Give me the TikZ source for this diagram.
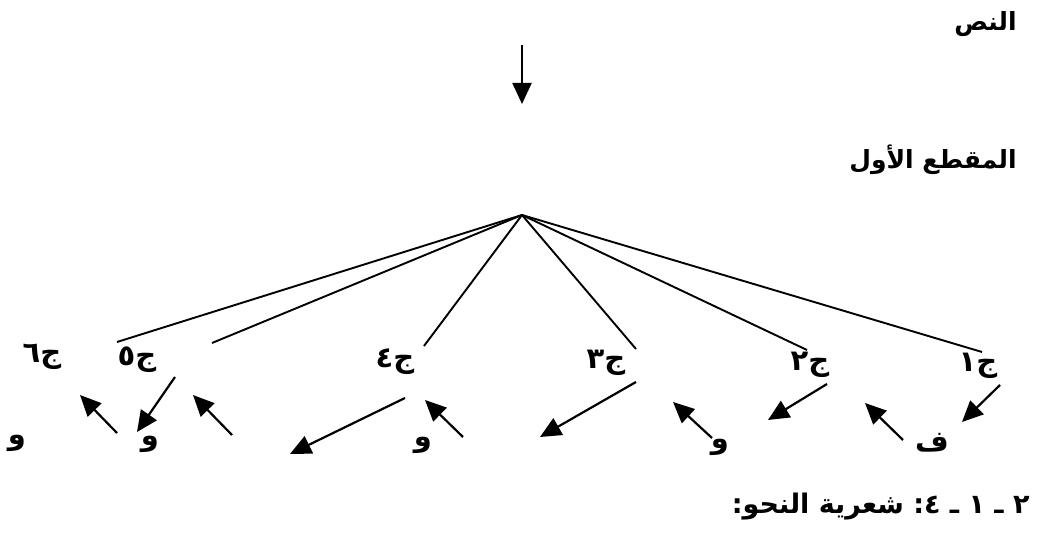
\documentclass[tikz,border=0pt]{standalone}
\usepackage{fontspec}
\newfontfamily\arabicfont[Script=Arabic]{DejaVu Sans}
\TeXXeTstate=1
\usetikzlibrary{arrows.meta}

\tikzset{
  word/.style={font=\arabicfont\bfseries\fontsize{12.5}{14}\selectfont, inner sep=0pt},
  sent/.style={font=\arabicfont\bfseries\fontsize{14.5}{16}\selectfont, inner sep=0pt},
  head/.style={font=\arabicfont\bfseries\fontsize{13.5}{16}\selectfont, inner sep=0pt},
  branch/.style={line width=0.95pt},
  link/.style={line width=1.1pt, -{Triangle[length=10.5pt,width=9.5pt]}}
}

\begin{document}
\begin{tikzpicture}[x=0.5pt, y=-0.5pt]
	\useasboundingbox (0,0) rectangle (1045,544);
	
	% Top labels
	\node[word, anchor=east] (text) at (1017, 24) {النص};
	\node[word, anchor=east] (part) at (1017, 160)
		{\beginR\hbox{المقطع} \hbox{الأول}\endR};
	
	% Arrow down to the part
	\coordinate (down0) at (522, 45);
	\coordinate (down1) at (522, 104);
	\draw[link] (down0) -- (down1);
	
	% Apex of the fan
	\coordinate (apex) at (522, 215);
	
	% Ends of the branches
	\foreach \name/\x/\y in {e1/982/352, e2/807/350, e3/636/349,
	                         e4/424/346, e5/212/343, e6/117/342}
		\coordinate (\name) at (\x, \y);
	\foreach \name in {e1, e2, e3, e4, e5, e6}
		\draw[branch] (apex) -- (\name);
	
	% Sentences
	\node[sent] (j1) at (978, 366) {ج١};
	\node[sent] (j2) at (810, 365) {ج٢};
	\node[sent] (j3) at (606, 363) {ج٣};
	\node[sent] (j4) at (395, 362) {ج٤};
	\node[sent] (j5) at (137, 360) {ج٥};
	\node[sent] (j6) at (42, 357) {ج٦};
	
	% Connectives
	\node[sent] (f1) at (932, 443) {ف};
	\node[sent] (w1) at (720, 447) {و};
	\node[sent] (w2) at (423, 445) {و};
	\node[sent] (w3) at (150, 444) {و};
	\node[sent] (w4) at (17, 443) {و};
	
	% Arrows between sentences
	\foreach \i/\xa/\ya/\xb/\yb in {1/1000/385/962/422, 2/903/440/865/403,
	        3/827/384/768/420, 4/712/438/673/402, 5/636/382/540/437,
	        6/463/437/425/400, 7/405/398/290/454, 8/232/435/193/395,
	        9/175/377/137/432, 10/117/433/80/395}
	{
		\coordinate (t\i) at (\xa, \ya);
		\coordinate (h\i) at (\xb, \yb);
		\draw[link] (t\i) -- (h\i);
	}
	
	% Heading
	\node[head, anchor=east] (title) at (1030, 507)
		{\beginR\hbox{٢} \hbox{ـ} \hbox{١} \hbox{ـ} \hbox{٤:} \hbox{شعرية} \hbox{النحو:}\endR};
	
\end{tikzpicture}
\end{document}
